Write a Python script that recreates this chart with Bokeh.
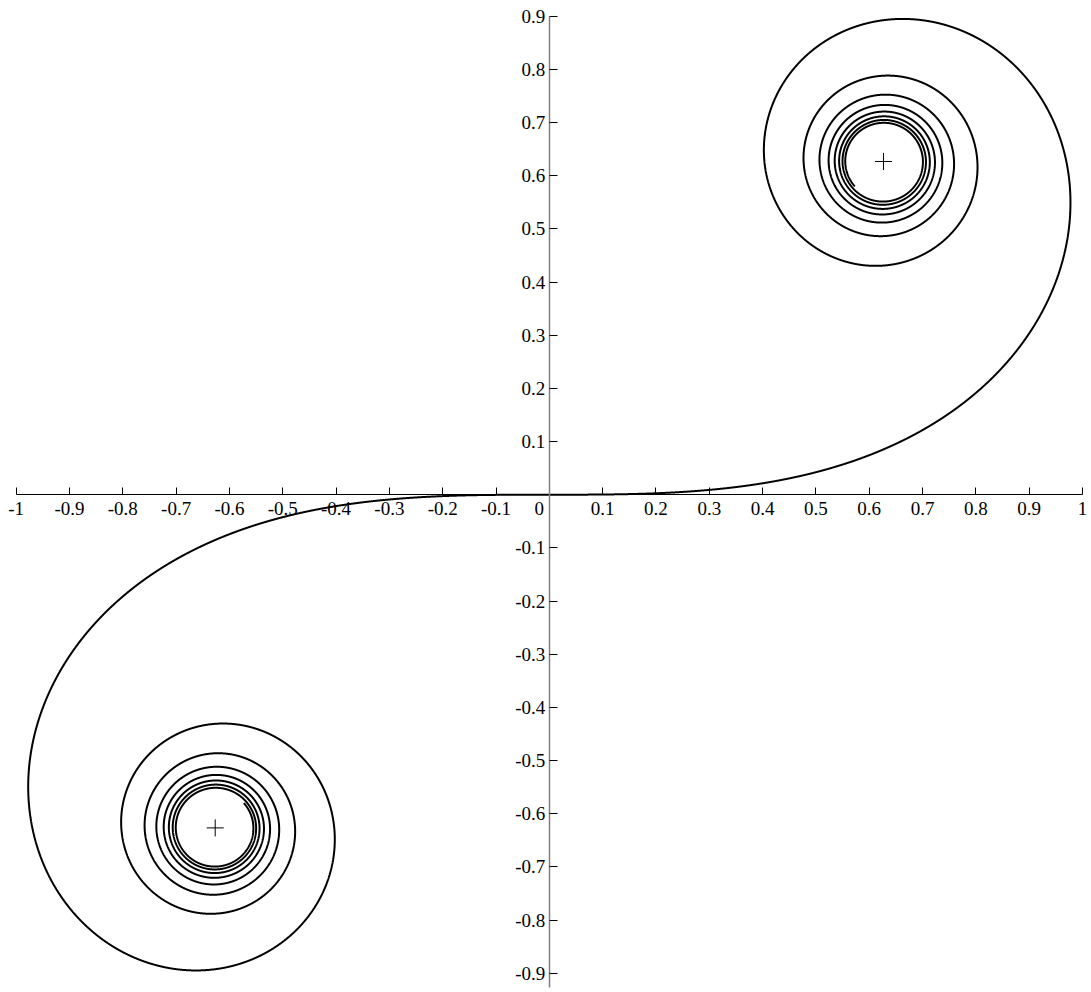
import numpy as np
from bokeh.plotting import figure
from bokeh.models import LinearAxis, FixedTicker, Label, Range1d
from bokeh.embed import file_html
from bokeh.resources import INLINE

# Clothoid (Euler spiral): x = ∫cos(u²)du, y = ∫sin(u²)du, u from 0 to t
t_span = [-7.03, 7.03]
n_samples = 40001

# Limit points of the two coils, ±sqrt(pi/8)
centers_x = [0.6267, -0.6267]
centers_y = [0.6267, -0.6267]

# Axis ticks and their labels
x_ticks = [-1, -0.9, -0.8, -0.7, -0.6, -0.5, -0.4, -0.3, -0.2, -0.1, 0,
           0.1, 0.2, 0.3, 0.4, 0.5, 0.6, 0.7, 0.8, 0.9, 1]
x_tick_labels = ["-1", "-0.9", "-0.8", "-0.7", "-0.6", "-0.5", "-0.4", "-0.3", "-0.2", "-0.1", "",
                 "0.1", "0.2", "0.3", "0.4", "0.5", "0.6", "0.7", "0.8", "0.9", "1"]
y_ticks = [-0.9, -0.8, -0.7, -0.6, -0.5, -0.4, -0.3, -0.2, -0.1,
           0.1, 0.2, 0.3, 0.4, 0.5, 0.6, 0.7, 0.8, 0.9]
y_tick_labels = ["-0.9", "-0.8", "-0.7", "-0.6", "-0.5", "-0.4", "-0.3", "-0.2", "-0.1",
                 "0.1", "0.2", "0.3", "0.4", "0.5", "0.6", "0.7", "0.8", "0.9"]

# Numerical integration of the Fresnel-type integrands from the origin
t = np.linspace(t_span[0], t_span[1], n_samples)
i0 = n_samples // 2
dt = t[1] - t[0]
def cumint(f):
    c = np.concatenate([[0.0], np.cumsum((f[1:] + f[:-1]) * 0.5 * dt)])
    return c - c[i0]
xs = cumint(np.cos(t ** 2))
ys = cumint(np.sin(t ** 2))

FONT = "Liberation Serif"
FSIZE = "19px"

p = figure(width=1091, height=992,
           x_range=Range1d(-1.0294, 1.0169), y_range=Range1d(-0.9363, 0.9295),
           x_axis_type=None, y_axis_type=None,
           toolbar_location=None, output_backend="svg",
           min_border=0, outline_line_color=None)
p.grid.visible = False

xaxis = LinearAxis(fixed_location=0, ticker=FixedTicker(ticks=x_ticks), bounds=(-1, 1),
                   major_tick_in=7, major_tick_out=0, minor_tick_line_color=None,
                   axis_line_color="black", major_tick_line_color="black",
                   major_label_standoff=7,
                   major_label_text_font=FONT, major_label_text_font_size=FSIZE,
                   major_label_text_color="black",
                   major_label_overrides=dict(zip(x_ticks, x_tick_labels)))
p.add_layout(xaxis, "below")

yaxis = LinearAxis(fixed_location=0, ticker=FixedTicker(ticks=y_ticks), bounds=(-0.927, 0.9),
                   major_tick_in=8, major_tick_out=0, minor_tick_line_color=None,
                   axis_line_color="#7f7f7f", axis_line_width=1.5,
                   major_tick_line_color="black",
                   major_label_standoff=4,
                   major_label_text_font=FONT, major_label_text_font_size=FSIZE,
                   major_label_text_color="black",
                   major_label_overrides=dict(zip(y_ticks, y_tick_labels)))
p.add_layout(yaxis, "left")

# Origin label, nudged left of the vertical axis
p.add_layout(Label(x=0, y=0, text="0", x_offset=-10, y_offset=-7,
                   text_align="center", text_baseline="top",
                   text_font=FONT, text_font_size=FSIZE, text_color="black"))

p.line(xs, ys, line_color="black", line_width=2)
p.scatter(centers_x, centers_y, marker="cross", size=17, line_color="black", line_width=1)

open("out.html", "w").write(file_html(p, INLINE))
